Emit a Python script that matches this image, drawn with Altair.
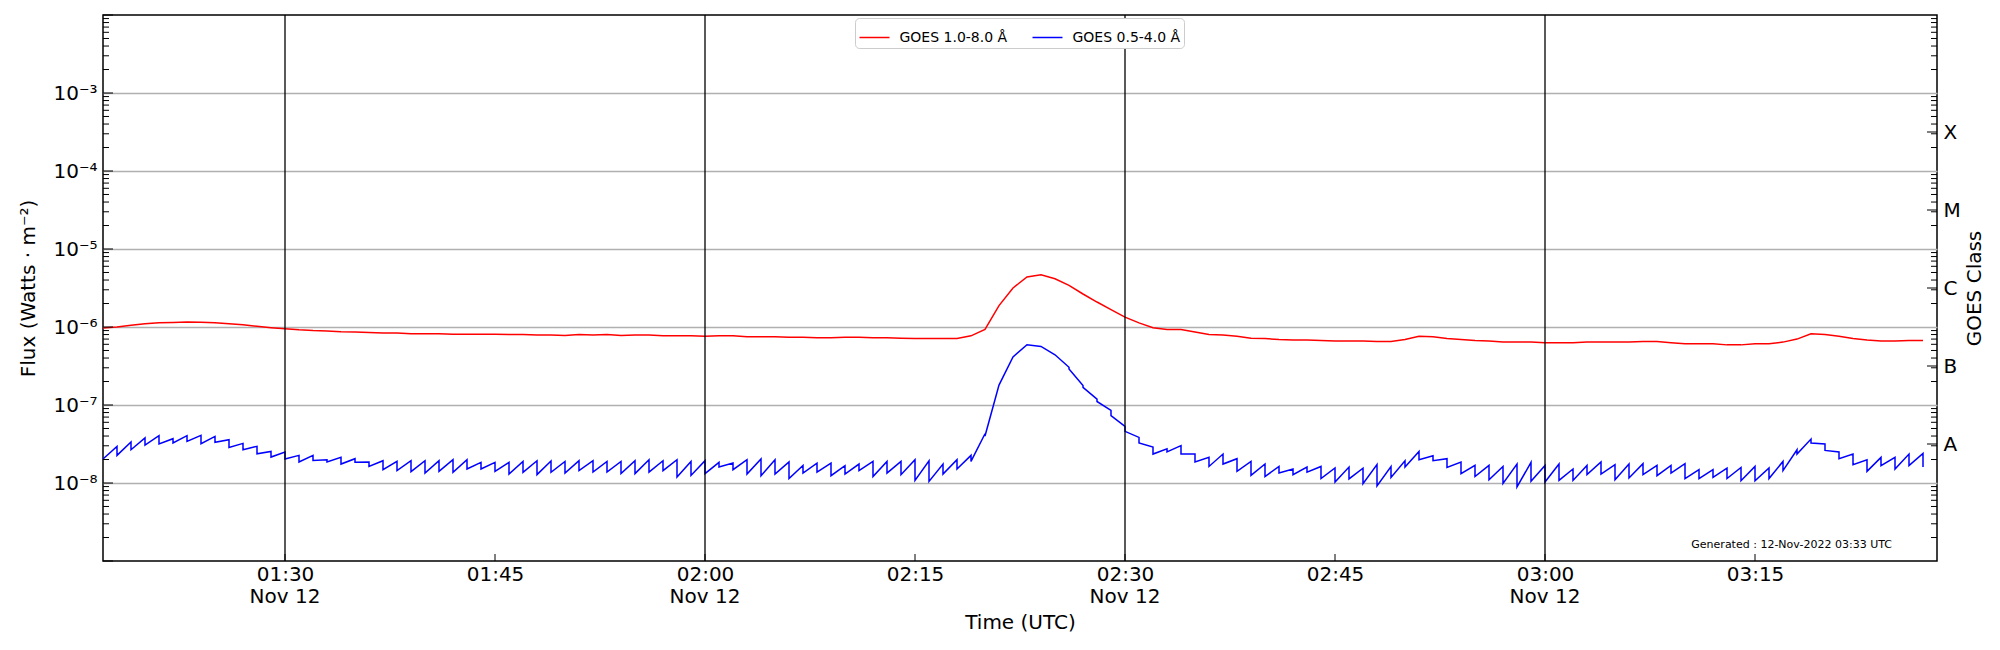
import altair as alt
import pandas as pd

# ---------------- data ----------------
START_H, START_M = 1, 17          # first sample 01:17 UTC, 1-minute cadence
RED_LABEL = "GOES 1.0-8.0 Å"
BLUE_LABEL = "GOES 0.5-4.0 Å"
GENERATED = "Generated : 12-Nov-2022 03:33 UTC"

# GOES 1.0-8.0 A flux, units of 1e-6 W m^-2, one value per minute
RED = [0.97, 1.00, 1.05, 1.10, 1.13, 1.14, 1.16, 1.15, 1.13, 1.10,
       1.07, 1.02, 0.98, 0.95, 0.92, 0.90, 0.89, 0.87, 0.86, 0.85,
       0.84, 0.84, 0.82, 0.82, 0.82, 0.81, 0.81, 0.81, 0.81, 0.80,
       0.80, 0.79, 0.79, 0.78, 0.80, 0.79, 0.80, 0.78, 0.79, 0.79,
       0.77, 0.77, 0.77, 0.76, 0.77, 0.77, 0.75, 0.75, 0.75, 0.74,
       0.74, 0.73, 0.73, 0.74, 0.74, 0.73, 0.73, 0.72, 0.71, 0.71,
       0.71, 0.71, 0.77, 0.93, 1.88, 3.16, 4.38, 4.68, 4.16, 3.42,
       2.65, 2.09, 1.67, 1.34, 1.13, 0.98, 0.93, 0.93, 0.86, 0.80,
       0.79, 0.76, 0.72, 0.71, 0.69, 0.68, 0.68, 0.67, 0.66, 0.66,
       0.66, 0.65, 0.65, 0.69, 0.76, 0.75, 0.71, 0.69, 0.67, 0.66,
       0.64, 0.64, 0.64, 0.63, 0.63, 0.63, 0.64, 0.64, 0.64, 0.64,
       0.65, 0.65, 0.63, 0.61, 0.61, 0.61, 0.59, 0.59, 0.61, 0.61,
       0.64, 0.70, 0.82, 0.80, 0.76, 0.71, 0.68, 0.66, 0.66, 0.67,
       0.67]

# GOES 0.5-4.0 A flux, units of 1e-8 W m^-2: value reached at each minute (hi)
# and value it restarts from at the same minute (lo)
BLUE_HI = [2.03, 2.95, 3.36, 3.78, 4.04, 3.70, 4.04, 4.08, 3.96, 3.59,
           3.22, 2.95, 2.54, 2.50, 2.26, 2.26, 1.99, 2.13, 2.05, 1.86,
           1.93, 1.89, 1.93, 1.93, 1.93, 1.99, 1.99, 1.84, 1.84, 1.84,
           1.89, 1.93, 1.91, 1.89, 1.93, 1.93, 1.89, 1.89, 1.93, 1.99,
           1.93, 1.99, 1.89, 1.93, 1.84, 1.80, 1.99, 2.03, 1.99, 1.86,
           1.68, 1.80, 1.80, 1.67, 1.75, 1.89, 1.89, 1.89, 1.99, 1.93,
           1.75, 1.99, 2.26, 4.28, 18.0, 41.4, 59.3, 56.4, 44.0, 30.5,
           17.8, 11.9, 8.54, 5.32, 3.84, 2.89, 2.75, 3.01, 2.35, 2.13,
           2.35, 2.05, 1.89, 1.75, 1.63, 1.51, 1.60, 1.63, 1.56, 1.60,
           1.55, 1.72, 1.63, 1.93, 2.54, 2.24, 2.05, 1.86, 1.68, 1.68,
           1.63, 1.75, 1.84, 1.68, 1.75, 1.51, 1.68, 1.86, 1.72, 1.75,
           1.77, 1.68, 1.68, 1.77, 1.48, 1.48, 1.55, 1.58, 1.63, 1.56,
           1.89, 2.67, 3.66, 3.16, 2.50, 2.35, 1.99, 2.13, 2.13, 2.35,
           2.40]
BLUE_LO = [2.03, 2.26, 2.67, 3.07, 3.16, 3.26, 3.42, 3.19, 3.32, 2.86,
           2.67, 2.37, 2.15, 2.03, 1.86, 1.95, 1.86, 1.75, 1.84, 1.63,
           1.48, 1.44, 1.40, 1.34, 1.41, 1.37, 1.51, 1.51, 1.41, 1.30,
           1.37, 1.28, 1.37, 1.34, 1.44, 1.38, 1.38, 1.32, 1.32, 1.38,
           1.44, 1.19, 1.25, 1.32, 1.60, 1.48, 1.30, 1.24, 1.30, 1.14,
           1.34, 1.38, 1.24, 1.30, 1.44, 1.21, 1.34, 1.28, 1.08, 1.05,
           1.30, 1.51, 1.89, 4.00, 18.0, 41.4, 59.3, 56.4, 44.0, 29.0,
           16.8, 11.1, 7.30, 4.59, 3.26, 2.35, 2.50, 2.35, 1.86, 1.63,
           1.75, 1.41, 1.25, 1.21, 1.34, 1.28, 1.38, 1.14, 1.03, 1.13,
           0.98, 0.92, 1.18, 1.60, 1.99, 1.93, 1.58, 1.32, 1.21, 1.10,
           0.99, 0.89, 1.05, 1.03, 1.08, 1.08, 1.28, 1.30, 1.10, 1.16,
           1.28, 1.24, 1.34, 1.14, 1.14, 1.18, 1.14, 1.07, 1.07, 1.14,
           1.44, 2.35, 3.26, 2.62, 2.05, 1.72, 1.41, 1.67, 1.51, 1.67,
           1.60]

VLINES = ["01:30", "02:00", "02:30", "03:00"]          # also the ticks carrying the date
XTICKS = ["01:30", "01:45", "02:00", "02:15", "02:30", "02:45", "03:00", "03:15"]
X_RANGE = ["01:17", "03:28"]
Y_RANGE = [1e-9, 1e-2]
DECADES = [-8, -7, -6, -5, -4, -3]
CLASSES = ["A", "B", "C", "M", "X"]

# ---------------- build tables ----------------
def iso(hm):
    return f"2022-11-12T{hm}:00Z"

def hm_of(k):
    h, m = divmod(START_H * 60 + START_M + k, 60)
    return f"{h:02d}:{m:02d}"

rows = []
for k in range(len(RED)):
    t = iso(hm_of(k))
    rows.append({"t": t, "flux": RED[k] * 1e-6, "series": RED_LABEL, "ord": 2 * k})
    if k > 0:
        rows.append({"t": t, "flux": BLUE_HI[k] * 1e-8, "series": BLUE_LABEL, "ord": 2 * k})
    rows.append({"t": t, "flux": BLUE_LO[k] * 1e-8, "series": BLUE_LABEL, "ord": 2 * k + 1})
df = pd.DataFrame(rows)

def dt(hm):
    h, m = hm.split(":")
    return alt.DateTime(year=2022, month=11, date=12, hours=int(h), minutes=int(m), utc=True)

W, H = 1834, 546
FONT = "DejaVu Sans"

xscale = alt.Scale(type="utc", domain=[dt(X_RANGE[0]), dt(X_RANGE[1])])
yscale = alt.Scale(type="log", domain=Y_RANGE, nice=False)

sup = {"-": "⁻", "0": "⁰", "1": "¹", "2": "²", "3": "³", "4": "⁴",
       "5": "⁵", "6": "⁶", "7": "⁷", "8": "⁸", "9": "⁹"}
def supstr(e):
    return "".join(sup[c] for c in str(e))

ylab_expr = "".join(
    f"round(log(datum.value)/LN10) == {e} ? '10{supstr(e)}' : " for e in DECADES
) + "''"
class_vals = [10 ** (-7.5 + i) for i in range(len(CLASSES))]
cls_expr = "".join(
    f"round(log(datum.value)/LN10*2) == {int(round((-7.5 + i) * 2))} ? '{c}' : "
    for i, c in enumerate(CLASSES)
) + "''"

major_vals = [10.0 ** e for e in range(-9, -1)]
minor_vals = [m * 10.0 ** e for e in range(-9, -2) for m in range(2, 10)]

# ---------------- layers ----------------
lines = alt.Chart(df).mark_line(strokeWidth=1.5).encode(
    x=alt.X(
        "t:T", scale=xscale,
        axis=alt.Axis(
            values=[dt(v) for v in XTICKS],
            labelExpr="utcFormat(datum.value, '%H:%M')",
            labelFontSize=20, labelPadding=3, labelBaseline="top",
            labelOverlap=False, labelFlush=False,
            ticks=False, tickSize=0, domain=False, grid=False,
            title="Time (UTC)", titleFontSize=20, titlePadding=28,
        ),
    ),
    y=alt.Y(
        "flux:Q", scale=yscale,
        axis=alt.Axis(
            values=[10.0 ** e for e in DECADES], labelExpr=ylab_expr,
            labelFontSize=20, labelPadding=6, ticks=False, tickSize=0,
            domain=False, grid=True, gridColor="#b0b0b0", gridWidth=1.3,
            title="Flux (Watts · m⁻²)", titleFontSize=20, titlePadding=14,
        ),
    ),
    color=alt.Color(
        "series:N",
        scale=alt.Scale(domain=[RED_LABEL, BLUE_LABEL], range=["#ff0000", "#0000ff"]),
        legend=alt.Legend(
            orient="none", legendX=752, legendY=3, direction="horizontal",
            title=None, symbolType="stroke", symbolSize=900, symbolStrokeWidth=1.5,
            labelFontSize=14, labelFont=FONT, strokeColor="#cccccc",
            fillColor="white", padding=3.5, cornerRadius=4,
            columnPadding=22, labelOffset=9,
        ),
    ),
    order="ord:Q",
)

vlines = alt.Chart(pd.DataFrame({"t": [iso(v) for v in VLINES]})).mark_rule(
    color="black", strokeWidth=1.3
).encode(x=alt.X("t:T", scale=xscale, axis=None))

date_text = alt.Chart(pd.DataFrame({"t": [iso(v) for v in VLINES]})).transform_calculate(
    d="utcFormat(toDate(datum.t), '%b %d')"
).mark_text(fontSize=20, font=FONT, color="black", baseline="middle").encode(
    x=alt.X("t:T", scale=xscale, axis=None), y=alt.value(H + 36), text="d:N"
)

xticks = alt.Chart(pd.DataFrame({"t": [iso(v) for v in XTICKS]})).mark_rule(
    color="black", strokeWidth=1
).encode(x=alt.X("t:T", scale=xscale, axis=None), y=alt.value(H - 7), y2=alt.value(H))

def ytick_layer(vals, x0, x1, axis=None):
    return alt.Chart(pd.DataFrame({"v": vals})).mark_rule(color="black", strokeWidth=1).encode(
        y=alt.Y("v:Q", scale=yscale, axis=axis), x=alt.value(x0), x2=alt.value(x1)
    )

left_major = ytick_layer(major_vals, 0, 10)
left_minor = ytick_layer(minor_vals, 0, 6)
right_minor = ytick_layer(minor_vals, W - 6, W)
right_major = ytick_layer(
    class_vals, W - 10, W,
    axis=alt.Axis(
        orient="right", values=class_vals, labelExpr=cls_expr, labelFontSize=20,
        labelPadding=6, ticks=False, tickSize=0, domain=False, grid=False,
        title="GOES Class", titleFontSize=20, titleAngle=270, titlePadding=24,
    ),
)

gen = alt.Chart(pd.DataFrame({"s": [GENERATED]})).mark_text(
    align="right", baseline="middle", fontSize=11, font=FONT, color="black"
).encode(text="s:N", x=alt.value(W - 45), y=alt.value(H - 16))

chart = alt.layer(
    lines, vlines, date_text, xticks, left_major, left_minor, right_minor, right_major, gen
).resolve_axis(x="independent", y="independent").properties(
    width=W, height=H,
    autosize=alt.AutoSizeParams(type="none"),
    padding={"left": 95, "top": 7, "right": 55, "bottom": 80},
    background="white",
).configure_view(stroke="black", strokeWidth=1.5).configure_axis(
    labelFont=FONT, titleFont=FONT, labelColor="black", titleColor="black",
    titleFontWeight="normal",
)

chart.save("out.html", embed_options={"renderer": "svg", "actions": False})
